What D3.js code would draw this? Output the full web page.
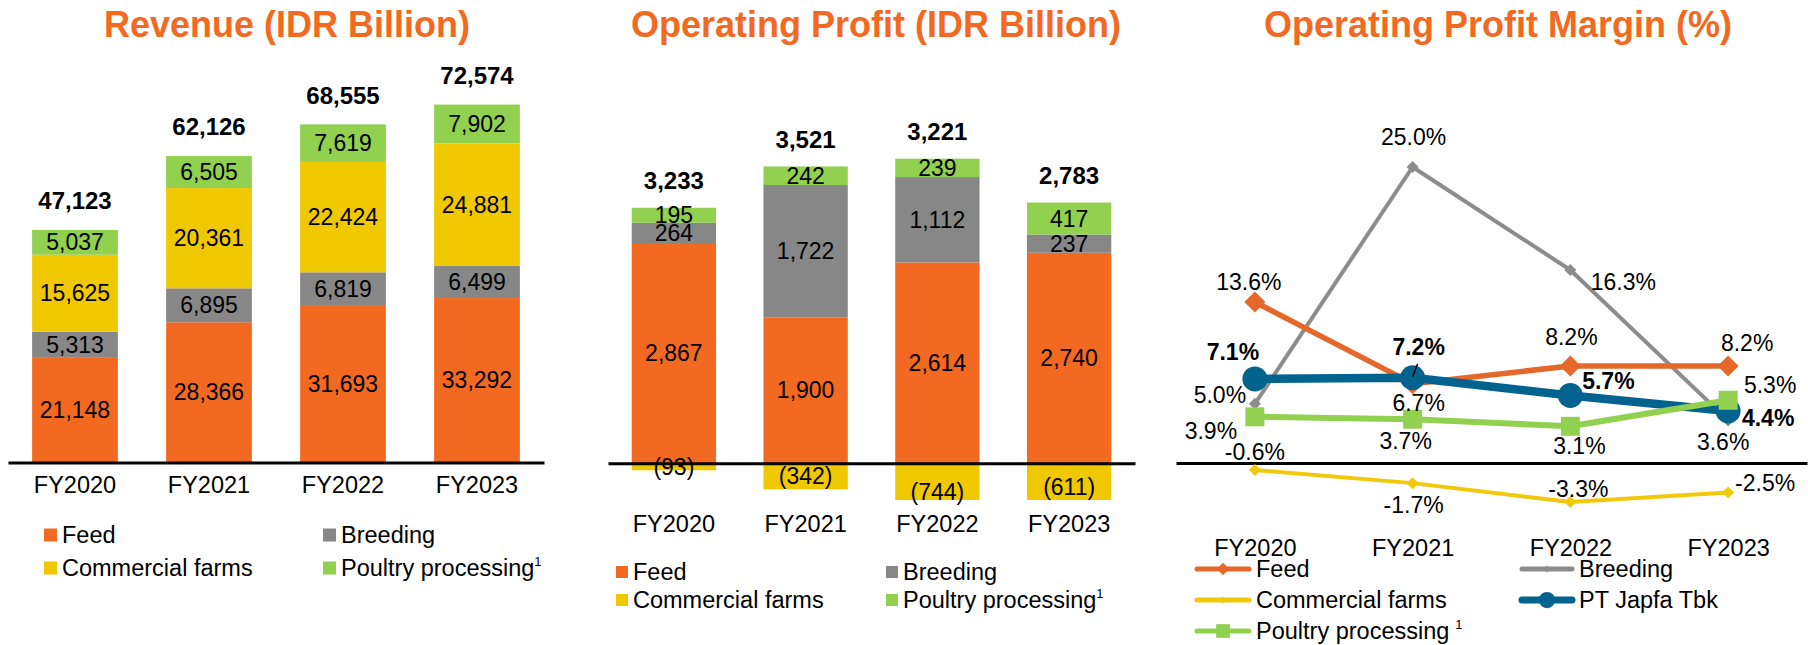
<!DOCTYPE html>
<html>
<head>
<meta charset="utf-8">
<script src="https://cdn.jsdelivr.net/npm/d3@7"></script>
<style>
  body { margin: 0; background: #fff; }
  svg text { font-family: 'Liberation Sans', Arial, sans-serif; fill: #000; }
</style>
</head>
<body>
<svg id="chart" width="1808" height="645"></svg>
<script>
// ---- data ----
const years = ['FY2020', 'FY2021', 'FY2022', 'FY2023'];
const segments = ['Feed', 'Breeding', 'Commercial farms', 'Poultry processing'];

const revFeed = [21148, 28366, 31693, 33292];
const revBreeding = [5313, 6895, 6819, 6499];
const revCommercial = [15625, 20361, 22424, 24881];
const revPoultry = [5037, 6505, 7619, 7902];
const revTotal = [47123, 62126, 68555, 72574];

const opFeed = [2867, 1900, 2614, 2740];
const opBreeding = [264, 1722, 1112, 237];
const opCommercial = [-93, -342, -744, -611];
const opPoultry = [195, 242, 239, 417];
const opTotal = [3233, 3521, 3221, 2783];

const marginFeed = [13.6, 6.7, 8.2, 8.2];
const marginBreeding = [5.0, 25.0, 16.3, 3.6];
const marginCommercial = [-0.6, -1.7, -3.3, -2.5];
const marginJapfa = [7.1, 7.2, 5.7, 4.4];
const marginPoultry = [3.9, 3.7, 3.1, 5.3];

const segColor = {
  'Feed': '#F26A21',
  'Breeding': '#878787',
  'Commercial farms': '#F0C800',
  'Poultry processing': '#92D050'
};
const titleColor = '#F26A21';

const svg = d3.select('#chart');
// plain hyphen for negatives, like the slide
const locale = d3.formatLocale({decimal: '.', thousands: ',', grouping: [3], currency: ['', ''], minus: '-'});
const fmt = locale.format(',');
const fmtParen = v => v < 0 ? '(' + fmt(-v) + ')' : fmt(v);
const pct = v => locale.format('.1f')(v) + '%';

function rowsOf(feed, breeding, commercial, poultry) {
  return years.map((y, i) => ({
    year: y,
    'Feed': feed[i],
    'Breeding': breeding[i],
    'Commercial farms': commercial[i],
    'Poultry processing': poultry[i]
  }));
}

function title(x, text) {
  svg.append('text')
    .attr('x', x).attr('y', 37)
    .attr('text-anchor', 'middle')
    .attr('font-size', 36).attr('font-weight', 'bold')
    .style('fill', titleColor)
    .text(text);
}

function axis(x, y0, pad) {
  const ax = svg.append('g')
    .attr('transform', 'translate(0,' + y0 + ')')
    .call(d3.axisBottom(x).tickSize(0).tickSizeOuter(0).tickPadding(pad));
  ax.select('.domain').attr('stroke', '#000').attr('stroke-width', 3);
  ax.selectAll('text').attr('font-size', 23.5).attr('font-family', null);
  ax.attr('font-family', null);
  return ax;
}

// stacked bars, negative values go below zero (clamped to plot), labels at true centre
function drawBars(rows, totals, x, y, totalGap, fmtSeg) {
  const yl = y.copy().clamp(false);
  const series = d3.stack().keys(segments).offset(d3.stackOffsetDiverging)(rows);
  const g = svg.append('g');

  series.forEach(s => {
    g.append('g').selectAll('rect')
      .data(s).join('rect')
      .attr('x', d => x(d.data.year))
      .attr('width', x.bandwidth())
      .attr('y', d => y(Math.max(d[0], d[1])))
      .attr('height', d => Math.abs(y(d[0]) - y(d[1])))
      .attr('fill', segColor[s.key]);
  });

  series.forEach(s => {
    g.append('g').selectAll('text')
      .data(s).join('text')
      .attr('x', d => x(d.data.year) + x.bandwidth() / 2)
      .attr('y', d => yl((d[0] + d[1]) / 2))
      .attr('dy', '0.35em')
      .attr('text-anchor', 'middle')
      .attr('font-size', 23)
      .text(d => fmtSeg(d.data[s.key]));
  });

  g.append('g').selectAll('text')
    .data(rows).join('text')
    .attr('x', d => x(d.year) + x.bandwidth() / 2)
    .attr('y', d => y(d3.sum(segments, k => Math.max(0, d[k]))) - totalGap)
    .attr('dy', '0.35em')
    .attr('text-anchor', 'middle')
    .attr('font-size', 24).attr('font-weight', 'bold')
    .text((d, i) => fmt(totals[i]));
}

function boxLegend(items, cols, rowsY, size) {
  items.forEach((k, i) => {
    const c = cols[i % 2], ry = rowsY[Math.floor(i / 2)];
    svg.append('rect')
      .attr('x', c.mark).attr('y', ry - size / 2)
      .attr('width', size).attr('height', size)
      .attr('fill', segColor[k]);
    const t = svg.append('text')
      .attr('x', c.text).attr('y', ry).attr('dy', '0.35em')
      .attr('font-size', 23.5)
      .text(k);
    if (k === 'Poultry processing') {
      t.append('tspan').attr('dy', '-0.75em').attr('font-size', 13).text('1');
    }
  });
}

// ================= Revenue =================
title(287, 'Revenue (IDR Billion)');
const xRev = d3.scaleBand().domain(years).range([8, 544]).paddingInner(0.36).paddingOuter(0.18);
const yRev = d3.scaleLinear().domain([0, 80000]).range([462, 68]).clamp(true);
drawBars(rowsOf(revFeed, revBreeding, revCommercial, revPoultry), revTotal, xRev, yRev, 29, fmt);
axis(xRev, 462.5, 14);
boxLegend(segments,
  [{mark: 44, text: 62}, {mark: 323, text: 341}], [535, 568], 13);

// ================= Operating profit =================
title(876, 'Operating Profit (IDR Billion)');
const xOp = d3.scaleBand().domain(years).range([608, 1135]).paddingInner(0.36).paddingOuter(0.18);
const yOp = d3.scaleLinear().domain([-480, 4000]).range([500, 156]).clamp(true);
drawBars(rowsOf(opFeed, opBreeding, opCommercial, opPoultry), opTotal, xOp, yOp, 27, fmtParen);
axis(xOp, yOp(0), 52);
boxLegend(segments,
  [{mark: 616, text: 633}, {mark: 886, text: 903}], [572, 600], 12);

// ================= Operating profit margin =================
title(1498, 'Operating Profit Margin (%)');
const xM = d3.scalePoint().domain(years).range([1176, 1807]).padding(0.5);
const yM = d3.scaleLinear().domain([-5, 30]).range([522.2, 107.8]);

const diamond = h => 'M0,' + (-h) + 'L' + h + ',0L0,' + h + 'L' + (-h) + ',0Z';
const lineSeries = [
  {name: 'Breeding', values: marginBreeding, color: '#8C8C8C', width: 4, marker: 'diamond', size: 6, bold: false,
    labelOff: [[-35, -9], [1, -30], [53, 12], [-5, 22]]},
  {name: 'Feed', values: marginFeed, color: '#E5682A', width: 5.5, marker: 'diamond', size: 10.5, bold: false,
    labelOff: [[-6, -20], [6, 19], [1, -29], [19, -23]]},
  {name: 'Commercial farms', values: marginCommercial, color: '#F2C80A', width: 4, marker: 'diamond', size: 6, bold: false,
    labelOff: [[0, -18], [1, 22], [8, -13], [37, -10]]},
  {name: 'PT Japfa Tbk', values: marginJapfa, color: '#03638F', width: 8.5, marker: 'circle', size: 12.5, bold: true,
    labelOff: [[-22, -27], [6, -31], [38, -15], [40, 7]]},
  {name: 'Poultry processing', values: marginPoultry, color: '#92D050', width: 6, marker: 'square', size: 9.5, bold: false,
    labelOff: [[-44, 14], [-7, 22], [9, 20], [42, -15]]}
];

function marker(g, s, cx, cy, scale) {
  const k = scale || 1;
  if (s.marker === 'circle') {
    g.append('circle').attr('cx', cx).attr('cy', cy).attr('r', s.size * k).attr('fill', s.color);
  } else if (s.marker === 'square') {
    g.append('rect').attr('x', cx - s.size * k).attr('y', cy - s.size * k)
      .attr('width', 2 * s.size * k).attr('height', 2 * s.size * k).attr('fill', s.color);
  } else {
    g.append('path').attr('d', diamond(s.size * k))
      .attr('transform', 'translate(' + cx + ',' + cy + ')').attr('fill', s.color);
  }
}

axis(xM, yM(0), 76);

const lineGen = d3.line().x((d, i) => xM(years[i])).y(d => yM(d));
lineSeries.forEach(s => {
  const g = svg.append('g');
  g.append('path')
    .attr('d', lineGen(s.values))
    .attr('fill', 'none')
    .attr('stroke', s.color)
    .attr('stroke-width', s.width)
    .attr('stroke-linejoin', 'round');
  s.values.forEach((v, i) => marker(g, s, xM(years[i]), yM(v)));
});

// data labels on top of lines
lineSeries.forEach(s => {
  s.values.forEach((v, i) => {
    svg.append('text')
      .attr('x', xM(years[i]) + s.labelOff[i][0])
      .attr('y', yM(v) + s.labelOff[i][1])
      .attr('dy', '0.35em')
      .attr('text-anchor', 'middle')
      .attr('font-size', 23)
      .attr('font-weight', s.bold ? 'bold' : null)
      .text(pct(v));
  });
});

// small leader line under the 7.2% label
svg.append('line')
  .attr('x1', xM('FY2021')).attr('y1', yM(marginJapfa[1]) - 1)
  .attr('x2', xM('FY2021') + 5).attr('y2', yM(marginJapfa[1]) - 14)
  .attr('stroke', '#000').attr('stroke-width', 1.5);

// line legend
const legOrder = ['Feed', 'Breeding', 'Commercial farms', 'PT Japfa Tbk', 'Poultry processing'];
const legCols = [{x1: 1197, x2: 1249, text: 1256}, {x1: 1522, x2: 1572, text: 1579}];
const legRows = [569, 600, 631];
legOrder.forEach((name, i) => {
  const s = lineSeries.find(d => d.name === name);
  const c = legCols[i % 2], ry = legRows[Math.floor(i / 2)];
  const g = svg.append('g');
  g.append('line')
    .attr('x1', c.x1).attr('x2', c.x2).attr('y1', ry).attr('y2', ry)
    .attr('stroke', s.color)
    .attr('stroke-width', name === 'PT Japfa Tbk' ? 7 : 5)
    .attr('stroke-linecap', 'round');
  marker(g, s, (c.x1 + c.x2) / 2, ry, name === 'PT Japfa Tbk' ? 0.65 : (s.marker === 'square' ? 0.72 : 0.6));
  const t = svg.append('text')
    .attr('x', c.text).attr('y', ry).attr('dy', '0.35em')
    .attr('font-size', 23.5)
    .text(name);
  if (name === 'Poultry processing') {
    t.append('tspan').attr('dx', 6).attr('dy', '-0.75em').attr('font-size', 13).text('1');
  }
});
</script>
</body>
</html>
